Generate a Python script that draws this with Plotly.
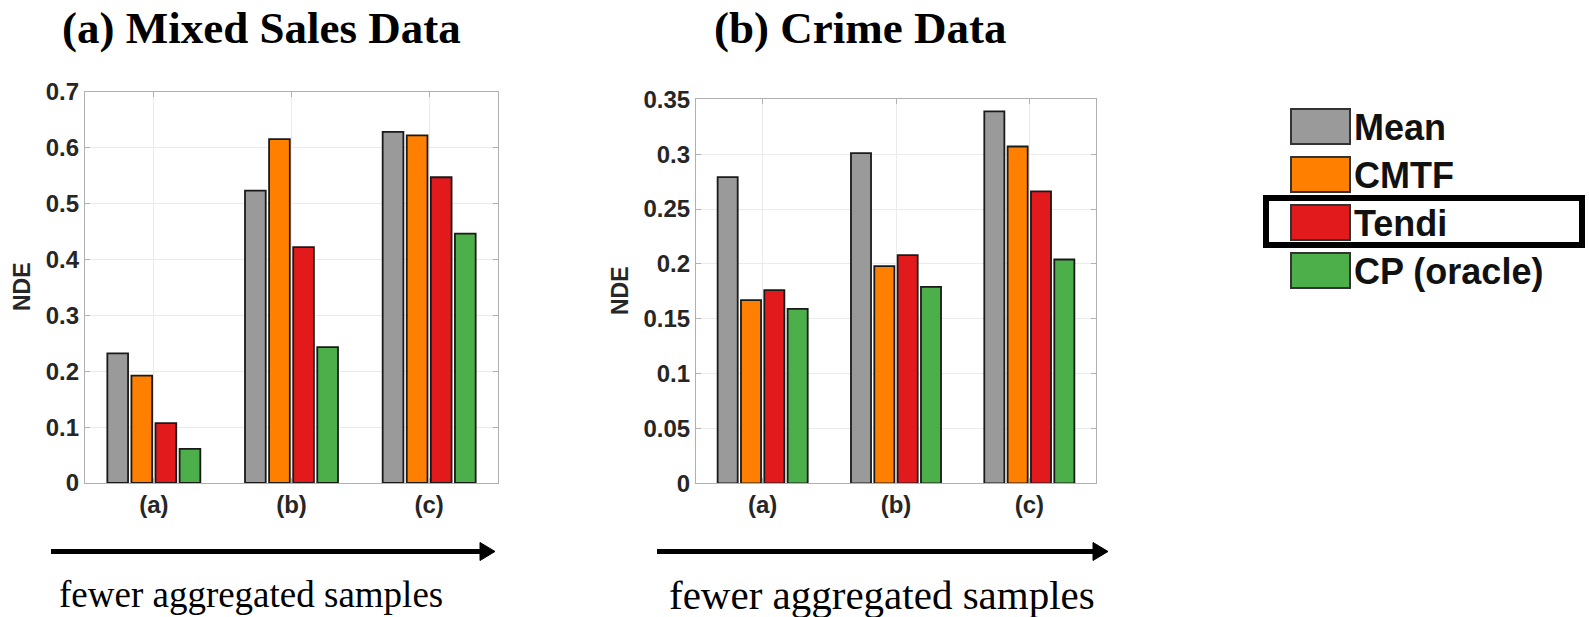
import plotly.graph_objects as go

W, H = 1589, 617

categories = ["(a)", "(b)", "(c)"]
methods = ["Mean", "CMTF", "Tendi", "CP (oracle)"]
colors = ["#9a9a9a", "#ff8000", "#e31a1c", "#4daf4a"]

sales_mean = [0.232, 0.523, 0.628]
sales_cmtf = [0.192, 0.615, 0.622]
sales_tendi = [0.107, 0.422, 0.547]
sales_cp = [0.061, 0.243, 0.446]

crime_mean = [0.279, 0.301, 0.339]
crime_cmtf = [0.167, 0.198, 0.307]
crime_tendi = [0.176, 0.208, 0.266]
crime_cp = [0.159, 0.179, 0.204]

sales = [sales_mean, sales_cmtf, sales_tendi, sales_cp]
crime = [crime_mean, crime_cmtf, crime_tendi, crime_cp]

titles = ["(a) Mixed Sales Data", "(b) Crime Data"]
xlabel = "fewer aggregated samples"
ylabel = "NDE"


def px(x):
    return x / W


def py(y):
    return 1 - y / H


fig = go.Figure()
xpos = [1, 2, 3]
for ax, data in (("", sales), ("2", crime)):
    for name, vals, c in zip(methods, data, colors):
        fig.add_trace(go.Bar(x=xpos, y=vals, name=name, xaxis="x" + ax, yaxis="y" + ax,
                             marker=dict(color=c, line=dict(color="#1a1a1a", width=1.8)),
                             showlegend=False))

axis_common = dict(showline=True, linecolor="#b0b0b0", linewidth=1.2, mirror="ticks", ticks="inside",
                   ticklen=5, tickcolor="#b0b0b0", gridcolor="#ebebeb", gridwidth=1, zeroline=False,
                   automargin=False,
                   tickfont=dict(family="Liberation Sans", size=24, color="#262626", weight="bold"))

fig.update_layout(
    width=W, height=H, margin=dict(l=0, r=0, t=0, b=0, pad=0, autoexpand=False),
    autosize=False, showlegend=False,
    paper_bgcolor="white", plot_bgcolor="white",
    barmode="group", bargap=0.3, bargroupgap=0.14,
    xaxis=dict(domain=[px(85), px(498)], range=[0.5, 3.5], tickvals=xpos, ticktext=categories,
               anchor="y", **axis_common),
    xaxis2=dict(domain=[px(696), px(1096)], range=[0.5, 3.5], tickvals=xpos, ticktext=categories,
                anchor="y2", **axis_common),
    yaxis=dict(domain=[py(483), py(91.7)], range=[0, 0.7], dtick=0.1, anchor="x", **axis_common),
    yaxis2=dict(domain=[py(483.3), py(99.3)], range=[0, 0.35], dtick=0.05, anchor="x2", **axis_common),
)

ann = []
# titles
for t, cx in zip(titles, [261, 860]):
    ann.append(dict(text="<b>%s</b>" % t, x=px(cx), y=py(28), xref="paper", yref="paper", showarrow=False,
                    xanchor="center", yanchor="middle", font=dict(family="Liberation Serif", size=45, color="black")))
# y labels
for cx, cy in ((22, 287), (620, 291)):
    ann.append(dict(text="<b>%s</b>" % ylabel, x=px(cx), y=py(cy), xref="paper", yref="paper", showarrow=False,
                    textangle=-90, xanchor="center", yanchor="middle",
                    font=dict(family="Liberation Sans", size=23, color="#262626")))
# bottom texts
for cx, cy, fs in ((251, 594, 37), (882, 595, 41)):
    ann.append(dict(text=xlabel, x=px(cx), y=py(cy), xref="paper", yref="paper", showarrow=False,
                    xanchor="center", yanchor="middle", font=dict(family="Liberation Serif", size=fs, color="black")))

shapes = []
# arrows
for x0, x1 in ((51, 495), (657, 1108)):
    yy = 551.5
    shapes.append(dict(type="line", xref="paper", yref="paper", x0=px(x0), x1=px(x1 - 12), y0=py(yy), y1=py(yy),
                       line=dict(color="black", width=5)))
    path = "M %f %f L %f %f L %f %f Z" % (px(x1 - 15), py(yy - 9), px(x1), py(yy), px(x1 - 15), py(yy + 9))
    shapes.append(dict(type="path", xref="paper", yref="paper", path=path, fillcolor="black",
                       line=dict(color="black", width=1)))

# legend
sw_tops = [109, 157, 205, 253]
for name, c, top in zip(methods, colors, sw_tops):
    shapes.append(dict(type="rect", xref="paper", yref="paper", x0=px(1291), x1=px(1350), y0=py(top + 35), y1=py(top),
                       fillcolor=c, line=dict(color="#333333", width=2)))
    ann.append(dict(text="<b>%s</b>" % name, x=px(1352), y=py(top + 18), xref="paper", yref="paper", showarrow=False,
                    xanchor="left", yanchor="middle", font=dict(family="Liberation Sans", size=36, color="#111111")))
# highlight box around Tendi
shapes.append(dict(type="rect", xref="paper", yref="paper", x0=px(1266), x1=px(1582), y0=py(245), y1=py(198),
                   line=dict(color="black", width=6), fillcolor="rgba(0,0,0,0)"))

fig.update_layout(annotations=ann, shapes=shapes)
fig.write_html("out.html", config={"displayModeBar": False},
               post_script="document.body.style.margin='0';document.body.style.overflow='hidden';")
